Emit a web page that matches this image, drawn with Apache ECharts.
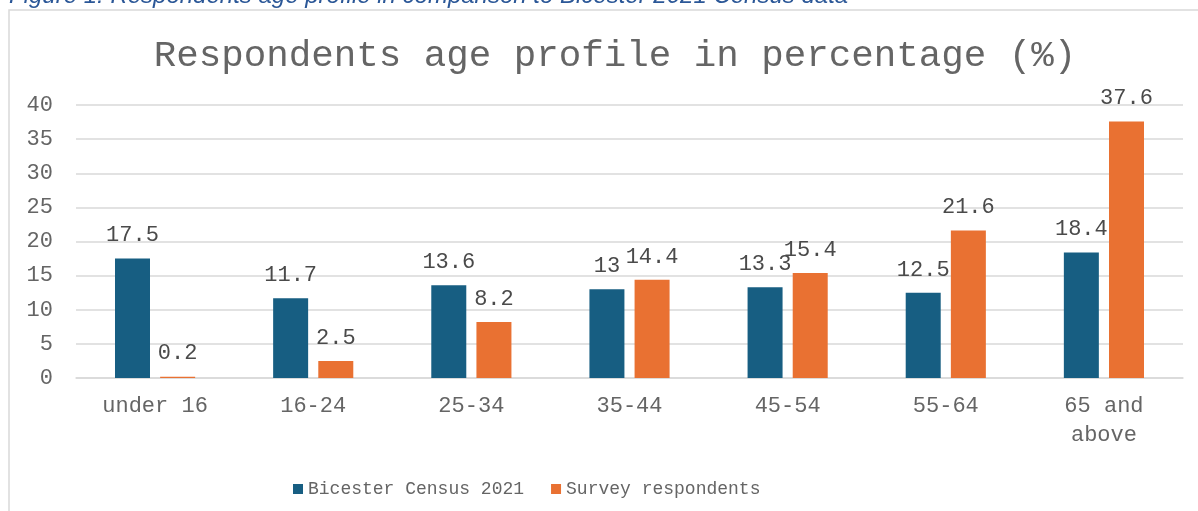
<!DOCTYPE html>
<html>
<head>
<meta charset="utf-8">
<script src="https://cdn.jsdelivr.net/npm/echarts@6/dist/echarts.min.js"></script>
<style>
html,body{margin:0;padding:0;background:#fff;}
#chart{width:1198px;height:511px;}
</style>
</head>
<body>
<div id="chart"></div>
<script>
const categories = ['under 16', '16-24', '25-34', '35-44', '45-54', '55-64', '65 and above'];
const censusValues = [17.5, 11.7, 13.6, 13, 13.3, 12.5, 18.4];
const surveyValues = [0.2, 2.5, 8.2, 14.4, 15.4, 21.6, 37.6];
const seriesNames = ['Bicester Census 2021', 'Survey respondents'];
const titleText = 'Respondents age profile in percentage (%)';
const captionText = 'Figure 1: Respondents age profile in comparison to Bicester 2021 Census data';

const MONO = '"Liberation Mono", "Courier New", monospace';
const chart = echarts.init(document.getElementById('chart'));
const labelStyle = {
  show: true, position: 'top', distance: 12,
  fontFamily: MONO, fontSize: 22, color: '#4a4a4a'
};
chart.setOption({
  animation: false,
  backgroundColor: '#ffffff',
  title: {
    text: titleText,
    left: 610, top: 32, textAlign: 'center',
    textStyle: { fontFamily: MONO, fontSize: 37.5, fontWeight: 'normal', color: '#656565' }
  },
  graphic: [
    {
      type: 'rect', silent: true, z: -1,
      shape: { x: 9, y: 10, width: 1250, height: 600 },
      style: { fill: 'none', stroke: '#D9D9D9', lineWidth: 1.5 }
    },
    {
      type: 'text', left: 9, top: -16, silent: true,
      style: {
        text: captionText,
        fontFamily: '"Liberation Sans", Arial, sans-serif',
        fontStyle: 'italic', fontSize: 24, fill: '#2B5797'
      }
    }
  ],
  legend: {
    data: seriesNames,
    left: 288, top: 475,
    itemWidth: 10, itemHeight: 10, itemGap: 27,
    icon: 'rect',
    textStyle: { fontFamily: MONO, fontSize: 18, color: '#656565' }
  },
  grid: { left: 76, right: 15, top: 105, bottom: 133 },
  xAxis: {
    type: 'category',
    data: categories,
    axisLine: { lineStyle: { color: '#D9D9D9', width: 1.5 } },
    axisTick: { show: false },
    axisLabel: {
      fontFamily: MONO, fontSize: 22, color: '#656565', margin: 14, lineHeight: 29,
      interval: 0,
      formatter: v => v.replace('and ', 'and\n')
    }
  },
  yAxis: {
    type: 'value', min: 0, max: 40, interval: 5,
    axisLine: { show: false },
    axisTick: { show: false },
    splitLine: { lineStyle: { color: '#D9D9D9', width: 1.5 } },
    axisLabel: { fontFamily: MONO, fontSize: 22, color: '#656565', margin: 23 }
  },
  series: [
    {
      name: seriesNames[0], type: 'bar', data: censusValues,
      barWidth: 35, barGap: '29%',
      itemStyle: { color: '#175E82' },
      label: labelStyle
    },
    {
      name: seriesNames[1], type: 'bar', data: surveyValues,
      barWidth: 35, barGap: '29%',
      itemStyle: { color: '#E97132' },
      label: labelStyle
    }
  ]
});
</script>
</body>
</html>
